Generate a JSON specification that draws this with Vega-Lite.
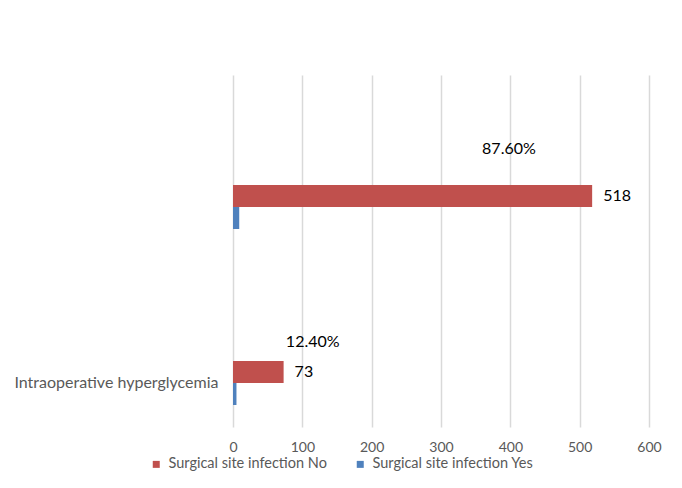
{
  "$schema": "https://vega.github.io/schema/vega-lite/v6.json",
  "width": 416,
  "height": 352,
  "autosize": "none",
  "padding": {"left": 233, "top": 75, "right": 33, "bottom": 61},
  "background": "white",
  "config": {"font": "Lato", "view": {"stroke": null}},
  "datasets": {
    "bars": [
      {"cat": " ", "series": "Surgical site infection No", "slot": "No", "count": 518},
      {"cat": " ", "series": "Surgical site infection Yes", "slot": "Yes", "count": 9},
      {"cat": "Intraoperative hyperglycemia", "series": "Surgical site infection No", "slot": "No", "count": 73},
      {"cat": "Intraoperative hyperglycemia", "series": "Surgical site infection Yes", "slot": "Yes", "count": 5}
    ],
    "pct": [
      {"cat": " ", "slot": "p13", "pos": 398, "label": "87.60%"},
      {"cat": "Intraoperative hyperglycemia", "slot": "p16", "pos": 115, "label": "12.40%"}
    ]
  },
  "encoding": {
    "y": {
      "field": "cat", "type": "nominal",
      "sort": [" ", "Intraoperative hyperglycemia"],
      "scale": {"paddingInner": 0, "paddingOuter": 0},
      "axis": {"title": null, "domain": false, "ticks": false, "grid": false, "labelPadding": 15, "labelOffset": 44, "labelFontSize": 16, "labelColor": "#595959", "labelLimit": 300}
    }
  },
  "layer": [
    {
      "data": {"name": "bars"},
      "layer": [
        {
          "mark": {"type": "bar"},
          "encoding": {
            "yOffset": {"field": "slot", "type": "nominal", "scale": {"domain": ["s0", "s1", "s2", "s3", "s4", "No", "Yes", "s7"], "paddingInner": 0, "paddingOuter": 0}},
            "x": {
              "field": "count", "type": "quantitative",
              "scale": {"domain": [0, 600], "nice": false},
              "axis": {"title": null, "values": [0, 100, 200, 300, 400, 500, 600], "labelFlush": false, "grid": true, "gridColor": "#d9d9d9", "gridWidth": 1.5, "domain": false, "ticks": false, "labelPadding": 13, "labelFontSize": 14, "labelColor": "#595959"}
            },
            "color": {
              "field": "series", "type": "nominal",
              "scale": {"domain": ["Surgical site infection No", "Surgical site infection Yes"], "range": ["#c0504d", "#4f81bd"]},
              "legend": {"title": null, "orient": "none", "legendX": -84, "legendY": 382, "direction": "horizontal", "symbolType": "square", "symbolSize": 49, "symbolStrokeWidth": 0, "labelFontSize": 14.5, "labelLimit": 300, "labelColor": "#595959", "columnPadding": 26, "labelOffset": 5}
            }
          }
        },
        {
          "transform": [{"filter": "datum.slot === 'No'"}],
          "mark": {"type": "text", "align": "left", "baseline": "middle", "dx": 11, "fontSize": 16, "color": "#000000"},
          "encoding": {
            "yOffset": {"field": "slot", "type": "nominal", "scale": {"domain": ["s0", "s1", "s2", "s3", "s4", "No", "Yes", "s7"], "paddingInner": 0, "paddingOuter": 0}},
            "x": {"field": "count", "type": "quantitative"},
            "text": {"field": "count", "type": "quantitative"}
          }
        }
      ]
    },
    {
      "data": {"name": "pct"},
      "mark": {"type": "text", "align": "center", "baseline": "middle", "fontSize": 16, "color": "#000000"},
      "encoding": {
        "yOffset": {"field": "slot", "type": "nominal", "scale": {"domain": ["p0","p1","p2","p3","p4","p5","p6","p7","p8","p9","p10","p11","p12","p13","p14","p15","p16","p17","p18","p19","p20","p21","p22","p23","p24","p25","p26","p27","p28","p29","p30","p31"], "paddingInner": 0, "paddingOuter": 0}},
        "x": {"field": "pos", "type": "quantitative"},
        "text": {"field": "label", "type": "nominal"}
      }
    }
  ],
  "resolve": {"scale": {"yOffset": "independent"}}
}
